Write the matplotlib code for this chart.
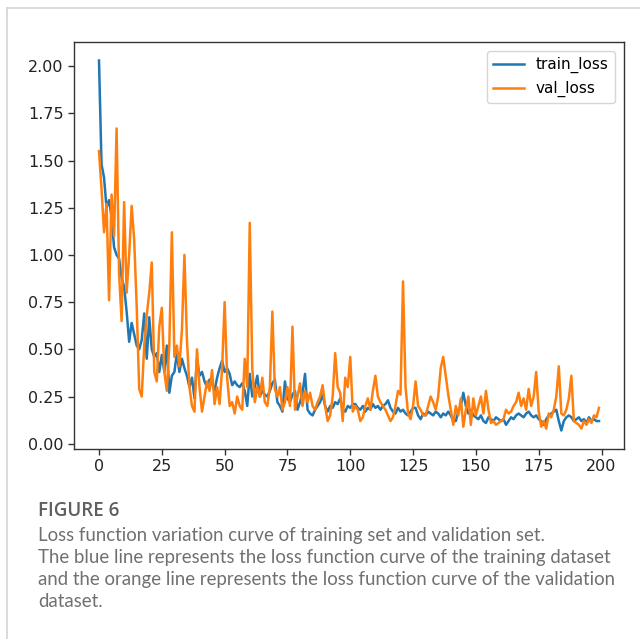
import matplotlib
matplotlib.use("Agg")
import matplotlib.pyplot as plt
from matplotlib.lines import Line2D

# training loss per epoch
train_loss = [2.03, 1.48, 1.41, 1.25, 1.29, 1.20, 1.04, 1.00, 0.98, 0.88,
              0.83, 0.70, 0.54, 0.64, 0.58, 0.52, 0.50, 0.55, 0.69, 0.45,
              0.67, 0.50, 0.46, 0.48, 0.38, 0.47, 0.38, 0.52, 0.27, 0.36,
              0.38, 0.48, 0.38, 0.45, 0.40, 0.36, 0.30, 0.35, 0.24, 0.45,
              0.36, 0.38, 0.33, 0.30, 0.34, 0.32, 0.28, 0.35, 0.40, 0.44,
              0.38, 0.40, 0.37, 0.31, 0.33, 0.31, 0.30, 0.32, 0.28, 0.20,
              0.37, 0.25, 0.30, 0.36, 0.25, 0.28, 0.26, 0.25, 0.28, 0.32,
              0.34, 0.22, 0.20, 0.17, 0.33, 0.24, 0.22, 0.26, 0.28, 0.18,
              0.22, 0.27, 0.37, 0.18, 0.16, 0.15, 0.18, 0.20, 0.22, 0.26,
              0.20, 0.17, 0.20, 0.19, 0.22, 0.21, 0.24, 0.18, 0.17, 0.20,
              0.19, 0.21, 0.21, 0.19, 0.18, 0.20, 0.17, 0.19, 0.18, 0.21,
              0.19, 0.20, 0.18, 0.20, 0.21, 0.23, 0.19, 0.17, 0.16, 0.19,
              0.17, 0.18, 0.16, 0.15, 0.17, 0.19, 0.19, 0.15, 0.13, 0.16,
              0.15, 0.17, 0.16, 0.15, 0.17, 0.16, 0.14, 0.16, 0.15, 0.17,
              0.15, 0.12, 0.12, 0.17, 0.20, 0.27, 0.20, 0.16, 0.18, 0.15,
              0.14, 0.13, 0.15, 0.12, 0.11, 0.14, 0.13, 0.12, 0.14, 0.13,
              0.12, 0.13, 0.10, 0.12, 0.14, 0.13, 0.15, 0.16, 0.15, 0.14,
              0.16, 0.17, 0.15, 0.14, 0.15, 0.13, 0.12, 0.10, 0.13, 0.15,
              0.16, 0.17, 0.18, 0.12, 0.07, 0.12, 0.14, 0.15, 0.14, 0.12,
              0.13, 0.14, 0.12, 0.13, 0.11, 0.14, 0.12, 0.13, 0.12, 0.12]

# validation loss per epoch
val_loss = [1.55, 1.35, 1.12, 1.27, 0.76, 1.32, 1.10, 1.67, 0.90, 0.65,
            1.28, 0.80, 1.00, 1.26, 1.08, 0.73, 0.29, 0.25, 0.52, 0.68,
            0.80, 0.96, 0.38, 0.33, 0.62, 0.72, 0.38, 0.28, 0.53, 1.12,
            0.46, 0.52, 0.41, 0.60, 1.00, 0.55, 0.30, 0.20, 0.17, 0.50,
            0.30, 0.17, 0.25, 0.33, 0.28, 0.39, 0.21, 0.30, 0.21, 0.40,
            0.75, 0.35, 0.20, 0.22, 0.16, 0.25, 0.20, 0.18, 0.45, 0.30,
            1.17, 0.40, 0.22, 0.30, 0.25, 0.35, 0.22, 0.20, 0.30, 0.70,
            0.29, 0.25, 0.30, 0.18, 0.22, 0.30, 0.20, 0.62, 0.18, 0.25,
            0.32, 0.20, 0.28, 0.22, 0.27, 0.20, 0.18, 0.22, 0.25, 0.31,
            0.20, 0.12, 0.15, 0.25, 0.48, 0.30, 0.27, 0.12, 0.35, 0.30,
            0.46, 0.17, 0.20, 0.18, 0.12, 0.14, 0.20, 0.24, 0.18, 0.28,
            0.36, 0.25, 0.22, 0.20, 0.18, 0.15, 0.12, 0.14, 0.20, 0.28,
            0.26, 0.86, 0.30, 0.16, 0.13, 0.20, 0.33, 0.20, 0.18, 0.15,
            0.15, 0.20, 0.25, 0.22, 0.18, 0.25, 0.40, 0.46, 0.36, 0.26,
            0.18, 0.10, 0.20, 0.15, 0.24, 0.09, 0.18, 0.25, 0.10, 0.24,
            0.15, 0.20, 0.25, 0.16, 0.28, 0.18, 0.11, 0.12, 0.10, 0.11,
            0.12, 0.13, 0.18, 0.16, 0.17, 0.20, 0.22, 0.27, 0.20, 0.24,
            0.18, 0.29, 0.20, 0.25, 0.38, 0.17, 0.09, 0.12, 0.08, 0.16,
            0.14, 0.18, 0.25, 0.41, 0.16, 0.15, 0.18, 0.24, 0.36, 0.12,
            0.11, 0.10, 0.08, 0.12, 0.10, 0.13, 0.11, 0.15, 0.14, 0.19]

epochs = list(range(len(train_loss)))
x_ticks = [0, 25, 50, 75, 100, 125, 150, 175, 200]
y_ticks = [0.00, 0.25, 0.50, 0.75, 1.00, 1.25, 1.50, 1.75, 2.00]

caption_title = "FIGURE 6"
caption_lines = [
    "Loss function variation curve of training set and validation set.",
    "The blue line represents the loss function curve of the training dataset",
    "and the orange line represents the loss function curve of the validation",
    "dataset.",
]

fig = plt.figure(figsize=(6.40, 6.39), dpi=100)
W, H = 640, 639

# card border (top and left edges)
fig.add_artist(Line2D([6.5 / W, 6.5 / W], [0, 1 - 8 / H], color="#d4d4d4", lw=1.2))
fig.add_artist(Line2D([6.5 / W, 1], [1 - 8 / H, 1 - 8 / H], color="#d4d4d4", lw=1.2))

ax = fig.add_axes([74 / W, 1 - 449 / H, 550 / W, 407 / H])
ax.plot(epochs, train_loss, color="#1f77b4", lw=1.8, label="train_loss")
ax.plot(epochs, val_loss, color="#ff7f0e", lw=1.8, label="val_loss")
ax.set_xticks(x_ticks)
ax.set_yticks(y_ticks)
ax.set_yticklabels([f"{v:.2f}" for v in y_ticks])
ax.tick_params(labelsize=11.5, length=4, width=1.0, color="#333333", labelcolor="#222222")
for s in ax.spines.values():
    s.set_linewidth(1.0)
    s.set_color("#333333")
ax.legend(loc="upper right", fontsize=11, borderaxespad=0.6)

fig.text(38 / W, 1 - 511 / H, caption_title, fontsize=13.5, fontweight="semibold",
         color="#5f5f5f", family="Open Sans", va="center")
for k, line in enumerate(caption_lines):
    fig.text(38 / W, 1 - (536 + 21.7 * k) / H, line, fontsize=13.45,
             color="#707070", family="Lato", va="center")

fig.savefig("out.png", dpi=100)
